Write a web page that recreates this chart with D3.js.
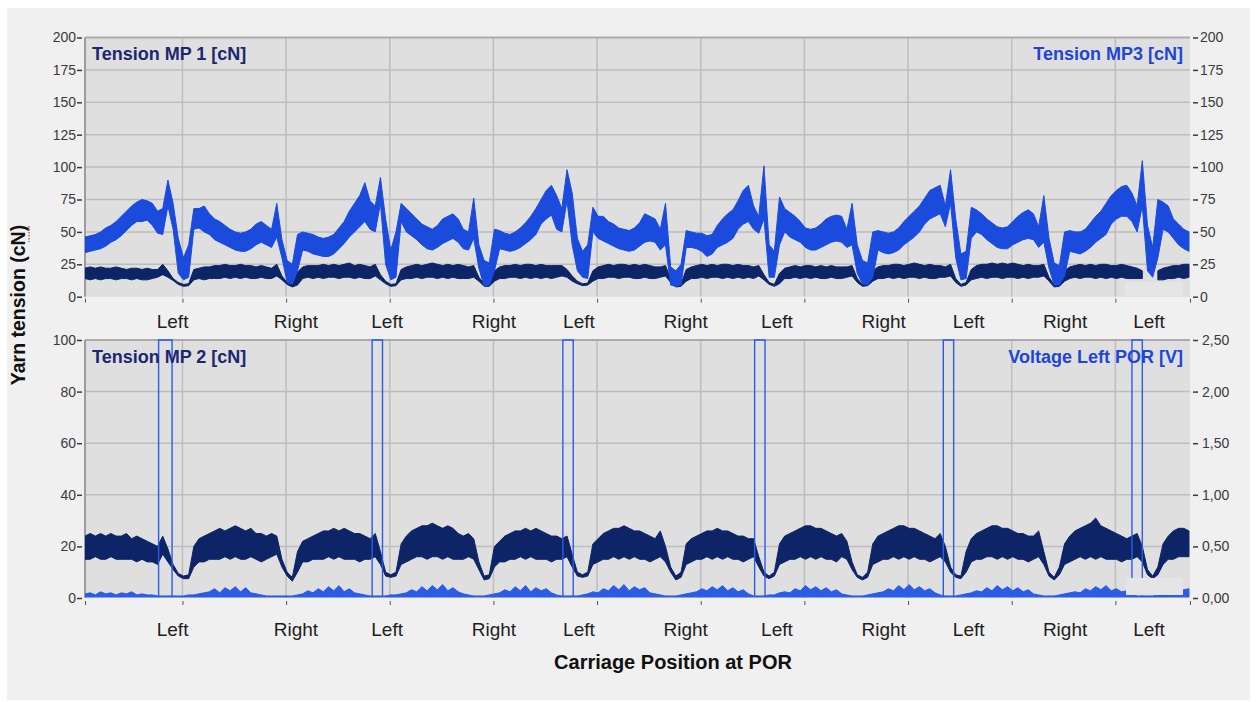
<!DOCTYPE html>
<html><head><meta charset="utf-8">
<script src="https://cdn.jsdelivr.net/npm/d3@7"></script>
<style>
html,body{margin:0;padding:0;background:#fff;}
svg{display:block;font-family:"Liberation Sans",Arial,sans-serif;}
</style></head><body>
<svg id="chart" width="1257" height="702"></svg>
<script>
// ---------------- DATA ----------------
// x axis: carriage strokes; samples every 0.05 stroke starting at -0.94
const xDomain = [-0.94, 9.72];
const xStart = -0.94, xStep = 0.05;
const gridX = [0,1,2,3,4,5,6,7,8,9];
const posLabels = ["Left","Right","Left","Right","Left","Right","Left","Right","Left","Right","Left"];
const posLabelAt = [-0.10,1.09,1.97,3.00,3.82,4.85,5.73,6.76,7.58,8.51,9.32];

const topTicks = [0,25,50,75,100,125,150,175,200];
const botTicks = [0,20,40,60,80,100];
const voltTicks = [0,0.5,1.0,1.5,2.0,2.5];

// Tension MP3 [cN] (upper chart, right axis) – max / min per sample
const mp3Hi = [46,47,48,50,53,55,58,62,66,70, 73,75,74,72,66,68,90,72,45,30,
 40,68,68,70,64,60,58,55,52,50, 49,50,52,56,58,55,52,72,44,28,
 25,48,50,49,48,46,45,46,48,53, 58,66,72,78,88,74,70,92,60,36,
 50,72,68,64,60,56,54,52,55,60, 62,64,60,52,50,76,40,28,26,52,
 51,49,48,50,53,57,62,68,75,82, 86,78,68,98,80,45,35,40,69,62,
 62,58,56,53,52,51,53,57,64,62, 60,52,72,23,20,25,51,50,49,49,
 47,48,55,60,64,67,74,82,86,70, 62,101,40,35,77,68,65,62,58,53,
 52,53,56,60,62,63,62,52,72,40, 28,26,50,51,50,49,50,53,58,62,
 66,70,76,82,84,86,70,98,60,33, 35,69,67,64,60,57,54,53,54,58,
 62,65,67,64,54,78,45,26,24,50, 51,50,50,52,57,62,66,72,78,82,
 85,86,80,70,105,55,38,75,73,70, 60,56,52,50];
const mp3Lo = [34,35,36,37,39,42,44,47,51,55, 58,58,59,55,49,48,70,52,18,13,
 15,52,53,50,48,44,42,40,38,36, 35,35,37,40,42,40,38,46,30,11,
 10,20,36,35,33,32,31,31,33,37, 41,46,50,54,58,52,50,72,25,13,
 15,58,50,47,44,40,37,36,38,41, 43,45,42,37,36,45,22,8,9,20,
 37,36,35,36,38,41,44,48,56,60, 63,52,50,74,40,20,15,14,50,45,
 43,41,39,37,36,35,36,39,42,43, 42,36,40,9,8,9,38,38,37,35,
 31,33,38,40,42,45,52,56,58,52, 49,60,15,15,40,50,46,44,42,38,
 36,36,38,40,42,43,42,38,40,18, 10,9,15,36,34,33,34,36,40,43,
 46,50,56,60,62,64,54,72,30,13, 14,45,50,48,44,41,38,37,37,40,
 42,44,45,44,38,42,22,9,9,16, 35,34,33,35,38,42,45,48,56,60,
 62,62,58,50,70,20,15,30,52,50, 45,40,37,35];

// Tension MP 1 [cN] (upper chart, left axis)
const mp1Hi = [22,23,22,23,22,22,23,22,21,22, 22,21,22,21,21,25,20,14,11,9.5,
 10,21,22,23,23,24,24,25,24,24, 25,24,24,23,24,23,22,25,16,11,
 9,19,23,24,24,24,25,24,25,24, 25,26,24,25,24,23,25,17,12,9.5,
 10,21,23,24,25,24,25,26,25,24, 25,24,25,24,23,24,15,10,9.5,20,
 23,24,24,25,24,25,25,24,25,24, 24,24,24,21,16,12,10,10.5,20,23,
 24,25,24,25,25,24,25,24,25,24, 23,23,24,14,9,10,21,23,24,25,
 24,25,24,25,25,24,25,24,24,23, 24,17,11,9.5,18,22,23,24,23,24,
 24,23,24,23,24,23,23,23,24,14, 9.5,10,20,23,24,24,25,25,24,25,
 26,25,24,25,24,24,23,25,14,9.5, 11,21,24,25,25,26,25,26,25,26,
 25,24,25,24,24,25,15,9,10,20, 23,24,25,24,25,24,25,25,24,24,
 25,24,23,22,20,null,null,20,22,23, 24,24,25,25];
const mp1Lo = [14,13,14,13,14,14,13,14,14,13, 14,13,13,14,15,17,15,12.5,9.5,8,
 8.5,13,14,13,14,14,14,15,14,15, 14,15,14,14,15,14,14,16,13,9.5,
 7.5,9,14,15,14,15,14,15,15,14, 15,15,14,15,14,14,16,13,10,8,
 8.5,13,14,14,15,14,15,15,14,15, 14,15,14,14,14,15,12,8,8,12,
 14,14,15,15,14,15,14,15,14,15, 14,15,16,15,12,10,8.5,9,12,14,
 14,15,15,14,15,15,14,14,15,14, 14,15,16,11,7.5,8,12,14,14,15,
 14,15,15,14,15,14,15,14,15,14, 16,13,9.5,8,10,14,14,15,14,15,
 14,15,14,14,15,14,14,15,16,11, 8,8.5,12,14,14,15,14,15,14,15,
 15,14,15,14,14,15,15,16,11,8, 9,13,14,15,14,15,15,14,15,15,
 14,15,14,15,15,16,12,7.5,8,12, 14,15,14,15,15,14,15,14,15,14,
 15,14,14,14,14,null,null,13,13,14, 14,15,14,15];

// Tension MP 2 [cN] (lower chart, left axis)
const mp2Hi = [24,25,24,25,24,25,24,24,25,23, 24,23,22,21,20,24,19,13,9.5,8.5,
 9,20,23,24,25,26,27,26,27,28, 27,26,27,25,25,24,25,24,15,10,
 8,18,22,23,24,25,26,26,27,26, 27,26,25,25,24,23,25,18,10,9,
 10,21,24,26,27,28,28,29,28,27, 28,27,25,24,25,23,14,8.5,9,20,
 22,24,25,26,26,27,26,27,26,25, 24,24,23,24,17,10,9,10,21,23,
 25,26,27,27,28,27,26,26,25,24, 23,26,20,12,8.5,10,21,23,24,25,
 26,26,27,26,26,25,24,24,23,23, 16,10,8.5,10,21,24,25,26,27,28,
 28,27,27,26,25,24,25,22,14,9, 8,10,21,24,25,26,27,28,28,27,
 27,26,25,24,23,25,20,12,9,8.5, 18,23,25,26,27,28,28,27,27,26,
 25,25,24,24,26,18,10,8,12,21, 24,26,27,28,29,31,28,27,26,25,
 24,23,24,25,20,11,8.5,12,21,24, 26,27,27,26];
const mp2Lo = [15,15,16,15,15,16,15,15,15,15, 14,15,14,14,13,17,14,11,8.5,7.5,
 7.5,12,14,14,15,15,15,16,15,16, 15,15,16,15,14,15,16,17,12,8.5,
 6.5,10,14,14,15,15,15,16,15,16, 15,15,15,14,15,15,16,13,8.5,8,
 8.5,13,14,15,16,16,15,16,16,15, 16,15,15,15,16,15,11,7,7.5,12,
 14,14,15,15,16,15,16,15,15,15, 14,15,15,16,12,8.5,8,8.5,13,14,
 15,15,16,15,16,15,16,15,15,14, 15,16,14,10,7,8,13,14,15,15,
 16,15,16,15,16,15,15,14,15,16, 12,8.5,7.5,8.5,13,14,15,15,16,15,
 16,15,16,15,15,14,16,15,11,8, 7,8,13,14,15,15,16,15,16,15,
 16,15,15,14,15,16,14,10,8,7.5, 10,14,15,15,16,16,15,16,15,16,
 15,15,14,15,16,13,8.5,7,9,13, 14,15,16,15,16,15,16,15,15,15,
 14,15,15,16,14,9,7.5,9,13,15, 15,16,16,16];

// Voltage Left POR [V] (lower chart, right axis): noise max per sample
const voltBase = 0.01;
const voltHi = [.04,.05,.03,.06,.04,.05,.03,.05,.04,.06, .03,.04,.03,.03,.02,.02,.02,.02,.02,.02,
 .03,.03,.04,.05,.06,.09,.05,.10,.07,.11, .06,.10,.05,.04,.03,.02,.02,.02,.02,.02,
 .02,.03,.04,.07,.05,.09,.06,.11,.07,.12, .06,.09,.05,.04,.03,.02,.02,.02,.02,.03,
 .03,.04,.05,.08,.06,.11,.07,.12,.08,.13, .07,.10,.06,.04,.03,.02,.02,.02,.03,.04,
 .05,.08,.06,.11,.07,.12,.06,.10,.07,.09, .05,.03,.02,.02,.02,.02,.03,.04,.06,.05,
 .09,.07,.12,.08,.13,.07,.11,.08,.10,.05, .04,.03,.02,.02,.02,.03,.04,.05,.06,.09,
 .07,.11,.08,.12,.07,.10,.06,.08,.04,.02, .02,.02,.03,.03,.05,.06,.05,.09,.07,.12,
 .08,.11,.07,.10,.06,.08,.04,.03,.02,.02, .02,.03,.04,.05,.06,.09,.07,.12,.08,.13,
 .08,.11,.07,.09,.05,.03,.02,.02,.02,.03, .04,.05,.07,.06,.10,.07,.12,.08,.11,.07,
 .10,.06,.08,.04,.03,.02,.02,.02,.03,.04, .05,.06,.05,.09,.07,.11,.08,.12,.07,.09,
 .06,.07,.04,.02,.02,.02,.02,.03,.04,.06, .05,.07,.08,.09];
// trigger pulses to 2.5 V (start / end in stroke units)
const pulseStart = [-0.23,1.83,3.67,5.52,7.34,9.16];
const pulseEnd   = [-0.10,1.93,3.77,5.62,7.44,9.26];
const pulseLevel = 2.5;

// ---------------- STYLE / LAYOUT ----------------
const C = {navy:"#0d2567", blue:"#1a4bdc", volt:"#2b5ce8", grid:"#bdbdbd", plotBg:"#dfdfdf",
  panel:"#f0f0f0", tick:"#3a3a3a", titleNavy:"#1c2770", titleBlue:"#1f45d6"};
const L = 85, R = 1190;
const top1 = 37.5, bot1 = 296.7, top2 = 340, bot2 = 598;

const svg = d3.select("#chart");
svg.append("rect").attr("x",7).attr("y",8).attr("width",1243).attr("height",692).attr("fill",C.panel);

const x = d3.scaleLinear().domain(xDomain).range([L,R]);
const yTop = d3.scaleLinear().domain([0,200]).range([bot1,top1]);
const yBot = d3.scaleLinear().domain([0,100]).range([bot2,top2]);
const yVolt = d3.scaleLinear().domain([0,2.5]).range([bot2,top2]);

const defs = svg.append("defs");
[["clipTop",top1,bot1],["clipBot",top2,bot2]].forEach(([id,t,b])=>{
  defs.append("clipPath").attr("id",id).append("rect")
    .attr("x",L).attr("y",t-1).attr("width",R-L).attr("height",b-t+1);
});

function panel(yScale, t, b, ticks){
  const g = svg.append("g");
  g.append("rect").attr("x",L).attr("y",t).attr("width",R-L).attr("height",b-t).attr("fill",C.plotBg);
  g.selectAll("line.h").data(ticks.slice(1,-1)).join("line")
    .attr("x1",L).attr("x2",R).attr("y1",d=>yScale(d)).attr("y2",d=>yScale(d))
    .attr("stroke",C.grid).attr("stroke-width",1.5);
  g.selectAll("line.v").data(gridX).join("line")
    .attr("x1",d=>x(d)).attr("x2",d=>x(d)).attr("y1",t).attr("y2",b)
    .attr("stroke",C.grid).attr("stroke-width",1.5);
  g.append("line").attr("x1",L).attr("x2",R).attr("y1",t).attr("y2",t).attr("stroke","#ababab").attr("stroke-width",2);
  g.append("line").attr("x1",L).attr("x2",L).attr("y1",t).attr("y2",b).attr("stroke","#9c9c9c").attr("stroke-width",2);
}
panel(yTop, top1, bot1, topTicks);
panel(yBot, top2, bot2, botTicks);

function series(hi, lo){
  return hi.map((h,i)=>({x: xStart + i*xStep, hi:h, lo: Array.isArray(lo) ? lo[i] : lo}));
}
function band(g, data, yScale, color){
  const area = d3.area().defined(d=>d.hi!=null)
    .x(d=>x(d.x)).y0(d=>yScale(d.lo)).y1(d=>yScale(d.hi));
  g.append("path").datum(data).attr("d",area)
    .attr("fill",color).attr("stroke",color).attr("stroke-width",1).attr("stroke-linejoin","round");
}

const gTop = svg.append("g").attr("clip-path","url(#clipTop)");
band(gTop, series(mp1Hi, mp1Lo), yTop, C.navy);
band(gTop, series(mp3Hi, mp3Lo), yTop, C.blue);

const gBot = svg.append("g").attr("clip-path","url(#clipBot)");
band(gBot, series(mp2Hi, mp2Lo), yBot, C.navy);
band(gBot, series(voltHi, voltBase), yVolt, C.volt);
const pulseLine = d3.line().x(d=>x(d[0])).y(d=>yVolt(d[1]));
gBot.selectAll("path.pulse").data(pulseStart.map((s,i)=>[[s,voltBase],[s,pulseLevel],[pulseEnd[i],pulseLevel],[pulseEnd[i],voltBase]]))
  .join("path").attr("class","pulse").attr("d",pulseLine)
  .attr("fill","none").attr("stroke",C.volt).attr("stroke-width",1.4);

// faint overlay patches (as in the screenshot)
svg.append("rect").attr("x",1125).attr("y",282).attr("width",58).attr("height",14).attr("fill","#e5e5e5");
svg.append("rect").attr("x",1126).attr("y",578).attr("width",57).attr("height",17).attr("fill","#e5e5e5");

// ---------------- AXES ----------------
function styleAxis(g, size){
  g.attr("font-family","'Liberation Sans',Arial,sans-serif").attr("font-size",size);
  g.select(".domain").remove();
  g.selectAll(".tick line").attr("stroke",C.tick).attr("stroke-width",1.5);
  g.selectAll(".tick text").attr("fill",C.tick);
}
const fmtComma = d => d3.format(".2f")(d).replace(".",",");

styleAxis(svg.append("g").attr("transform","translate(82,0)")
  .call(d3.axisLeft(yTop).tickValues(topTicks).tickSize(5).tickPadding(1)), 14);
styleAxis(svg.append("g").attr("transform","translate(1193,0)")
  .call(d3.axisRight(yTop).tickValues(topTicks).tickSize(5).tickPadding(2)), 14);
styleAxis(svg.append("g").attr("transform","translate(82,0)")
  .call(d3.axisLeft(yBot).tickValues(botTicks).tickSize(5).tickPadding(1)), 14);
styleAxis(svg.append("g").attr("transform","translate(1193,0)")
  .call(d3.axisRight(yVolt).tickValues(voltTicks).tickFormat(fmtComma).tickSize(5).tickPadding(4)), 14);

const xTickVals = [xDomain[0], ...gridX, xDomain[1]];
[[bot1+2],[bot2+3]].forEach(([yy])=>{
  const g = svg.append("g").attr("transform",`translate(0,${yy})`)
    .call(d3.axisBottom(x).tickValues(xTickVals).tickSize(4).tickFormat(""));
  g.select(".domain").remove();
  g.selectAll(".tick line").attr("stroke","#555").attr("stroke-width",1);
});
[[bot1+1, 16.5],[bot2+1, 24]].forEach(([yy,pad])=>{
  const g = svg.append("g").attr("transform",`translate(0,${yy})`)
    .call(d3.axisBottom(x).tickValues(posLabelAt).tickSize(0).tickPadding(pad)
      .tickFormat((d,i)=>posLabels[i]));
  g.attr("font-family","'Liberation Sans',Arial,sans-serif").attr("font-size",19);
  g.select(".domain").remove();
  g.selectAll(".tick text").attr("fill","#1e1e1e");
});

// ---------------- TITLES ----------------
function txt(t, xx, yy, opts){
  const e = svg.append("text").attr("x",xx).attr("y",yy).text(t)
    .attr("font-family","'Liberation Sans',Arial,sans-serif");
  Object.entries(opts).forEach(([k,v])=>e.attr(k,v));
  return e;
}
txt("Tension MP 1 [cN]", 92, 60, {"font-size":18,"font-weight":"bold",fill:C.titleNavy});
txt("Tension MP3 [cN]", 1183, 60, {"font-size":18,"font-weight":"bold",fill:C.titleBlue,"text-anchor":"end"});
txt("Tension MP 2 [cN]", 92, 363, {"font-size":18,"font-weight":"bold",fill:C.titleNavy});
txt("Voltage Left POR [V]", 1183, 363, {"font-size":18,"font-weight":"bold",fill:C.titleBlue,"text-anchor":"end"});
txt("Carriage Position at POR", 673, 669, {"font-size":20,"font-weight":"bold",fill:"#111","text-anchor":"middle"});
txt("Yarn tension (cN)", 0, 0, {"font-size":19.5,"font-weight":"bold",fill:"#111","text-anchor":"middle",
  transform:"translate(24.5,305) rotate(-90)"});
svg.append("line").attr("x1",29).attr("x2",29).attr("y1",226).attr("y2",242)
  .attr("stroke","#e04848").attr("stroke-width",1.4).attr("stroke-dasharray","1.5,1.5");
</script>
</body></html>
